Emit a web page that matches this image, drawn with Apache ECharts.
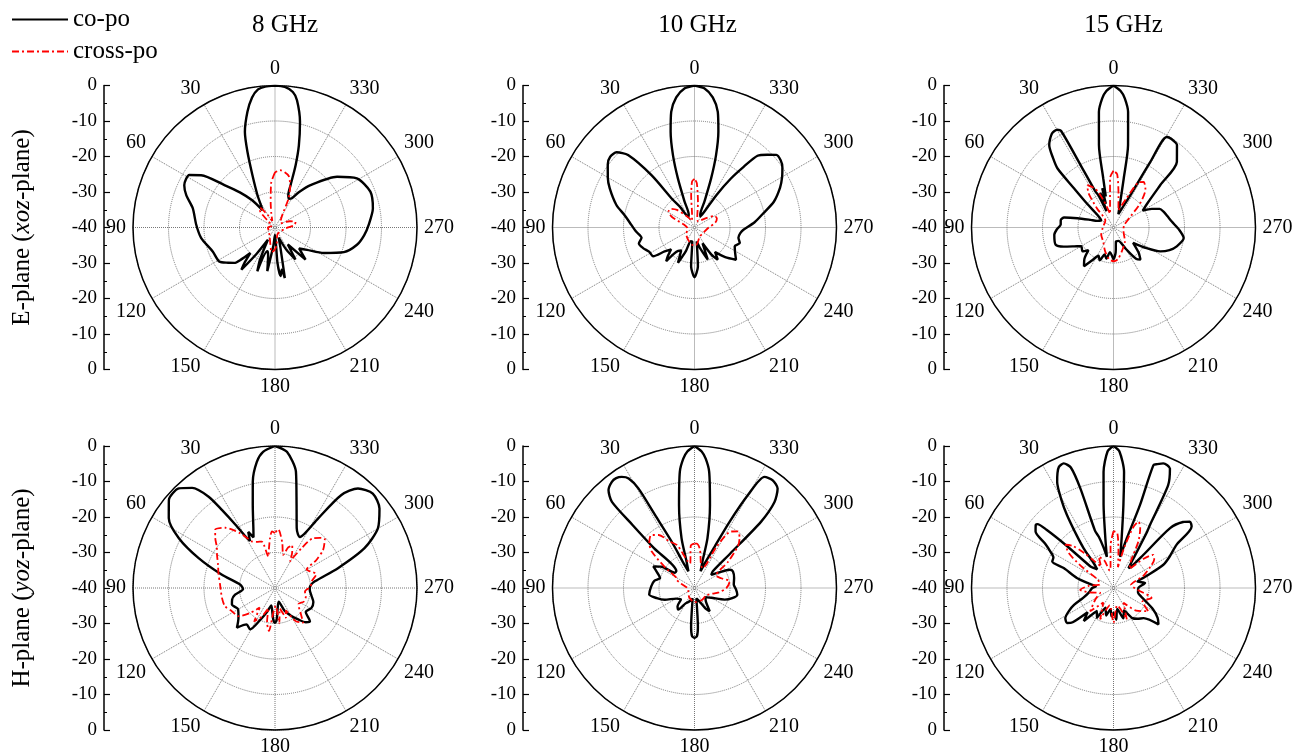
<!DOCTYPE html>
<html>
<head>
<meta charset="utf-8">
<script src="https://cdn.jsdelivr.net/npm/echarts@6/dist/echarts.min.js"></script>
<style>html,body{margin:0;padding:0;background:#fff}#c{width:1306px;height:755px}</style>
</head>
<body>
<div id="c"></div>
<script>
// ---- data: [angle (deg, counter-clockwise from top), level (dB)] ----
const columnTitles = ['8 GHz', '10 GHz', '15 GHz'];
const rowTitles = ['E-plane ({i|xoz}-plane)', 'H-plane ({i|yoz}-plane)'];
const seriesNames = ['co-po', 'cross-po'];
const angleTicks = [0, 30, 60, 90, 120, 150, 180, 210, 240, 270, 300, 330];
const radialTicks = [0, -10, -20, -30, -40, -30, -20, -10, 0];

const e8Co = [[0,0],[4,-0.2],[7,-0.8],[10,-2.8],[13.4,-6.5],[17.5,-11.8],[20,-17.3],[23.3,-23.9],[28.4,-29.6],[33,-33],[36,-34],
[40,-30],[45,-26],[50,-21.4],[54.7,-14.5],[58.5,-11.7],[65,-11.8],[70,-13.4],[76.8,-16.2],[88,-17.8],[98.2,-19],[111,-21.2],[121.3,-21.6],[127,-23.5],[131,-24.8],[133.3,-26.8],[136,-30],[139,-27],[141.5,-24.8],[145,-31],[150,-36],[155,-30],[158,-26.7],[162,-33],[166,-32],[170,-27.5],[175,-35],[180,-38],[184,-30],[186.6,-26.2],[189,-28],[191,-25.5],[195,-34],[200,-37],[207,-33],[212.6,-29.3],[217,-34],[223.5,-27.5],[229,-31],[235,-29],[242.4,-24.5],[250.3,-19.4],[258.1,-16.4],[265,-14.8],[271.6,-13.6],[281.1,-11.9],[290.6,-11.3],[301,-13.1],[309.3,-17.4],[320.1,-24.4],[326,-28],[330,-30.5],[334,-31],[337.8,-30.1],[339.8,-27.3],[341.7,-21.5],[343.8,-15.9],[346.7,-9.4],[350.2,-3.6],[352.5,-1.5],[356,-0.3],[360,0]];
const e8Cross = [[0,-24.5],[5,-27.5],[10,-33],[15,-36],[22,-38],[30,-36],[37,-33],[41,-33.5],[47,-37],[60,-39],[90,-38],[120,-38],[150,-37],[165,-35],[172,-33],[178,-33.5],[185,-35],[200,-38],[240,-38],[265,-37],[277,-34.5],[285,-34],[293,-35.5],[305,-38],[325,-37],[335,-31],[340,-27.5],[345,-25],[350,-24.2],[355,-23.8],[360,-24.5]];

const e10Co = [[0,0],[4,-0.7],[8,-3],[11.4,-6.8],[14,-12.2],[16.6,-18.8],[18.7,-25.4],[21,-32.2],[24,-36],[30,-36.5],[35,-33],[38,-30],[39.4,-20.9],[42.5,-12.3],[46,-9.5],[50,-9],[54,-9.8],[60,-11.8],[65.2,-13.7],[73.9,-17.1],[80,-20],[87.6,-22.2],[94,-23.5],[101,-24.8],[106,-23.7],[111.8,-24.4],[118,-25.5],[124.8,-25.8],[128.7,-29.2],[133,-31],[137,-29],[140,-27.6],[145,-32],[150,-32.5],[155,-29],[160,-33],[165,-36],[171,-36],[175,-29],[180,-26],[185,-29],[189,-36],[195,-34],[202.4,-30.2],[207,-35],[212,-31],[215.8,-28.8],[220,-31],[226,-28],[232.2,-25.2],[238,-26.5],[245,-27.5],[251,-26.5],[257,-27.3],[263,-27],[267.3,-26.2],[275,-23],[281.7,-20.2],[288,-16.5],[295,-13.4],[300,-11.5],[304.4,-10],[308,-9.2],[311.6,-9.2],[315,-11],[318.7,-13.1],[321,-18],[323.4,-22.8],[326,-29],[328,-34.7],[332,-36.5],[336,-36],[339,-32.2],[341.3,-25.4],[343.4,-18.8],[346,-12.2],[348.6,-6.8],[352,-3],[356,-0.7],[360,0]];
const e10Cross = [[0,-26.3],[3,-27],[6,-31],[10,-36],[20,-38],[35,-36],[45,-33],[52,-31.5],[58,-31.4],[65,-33],[75,-37],[95,-38],[130,-37],[155,-36],[175,-35],[185,-35],[210,-37],[245,-37],[270,-36],[283,-34],[292,-33.2],[300,-33.5],[310,-36],[330,-38],[345,-37],[352,-33],[357,-27.5],[360,-26.3]];

const e15Co = [[0,0],[3,-1.5],[5,-3.5],[7.2,-7.2],[10,-16.4],[11.8,-25.9],[14,-31],[16,-28.5],[18,-33],[21,-29.5],[23,-35],[25,-30],[26.6,-28.7],[27.8,-20.2],[28.5,-9],[30,-8.2],[33,-8.3],[36,-9.5],[38,-10.6],[41,-14],[43.5,-17.1],[45.2,-24.3],[48,-30],[52,-34.2],[60,-36],[68,-35],[71.6,-33.2],[75.6,-29.5],[78.6,-25.8],[82,-25],[87,-25.1],[92,-24],[97,-23.2],[106.6,-23],[111,-25],[115.6,-27.7],[120,-29.5],[127.5,-29],[132,-30.5],[137,-28],[142.7,-26.3],[147,-29],[152,-31],[157,-30],[162,-32],[167,-31],[172,-33],[177,-32],[180,-31],[185,-33],[190,-36],[200,-36],[210,-33],[216,-29],[220,-28.2],[225,-30],[232,-33],[238,-29],[243,-25.2],[248,-23],[253.4,-21.4],[261.4,-20],[268,-21.5],[275.8,-23.5],[282,-24.5],[287.6,-25.2],[292,-26],[296,-28],[300,-30.5],[306,-28],[312.2,-22.2],[316,-14.3],[322.4,-10.7],[327,-10.2],[329.5,-10.4],[330.7,-18.8],[332.5,-29.7],[336,-34],[340,-36],[344.4,-33.4],[348.2,-25.9],[350,-16.4],[352.8,-7.2],[355,-3.5],[357,-1.5],[360,0]];
const e15Cross = [[0,-24],[4,-26],[8,-33],[14,-36],[20,-32],[25,-28],[31.7,-26],[36,-28],[41,-33],[50,-37],[90,-37],[120,-36],[145,-35],[160,-33],[172,-31],[180,-30.5],[188,-31],[200,-33],[220,-35],[250,-37],[280,-37],[300,-35],[312,-30],[320,-26],[326.6,-24.6],[331,-25.5],[336,-31],[344,-35],[351,-31],[356,-25],[360,-24]];

const h8Co = [[0,0],[5,-1.5],[8.2,-4.1],[11.8,-9.4],[15,-15.8],[19.9,-22.1],[23,-24.5],[25.5,-22.5],[28,-25],[30,-23],[32,-19],[34.2,-13.5],[36,-8.2],[39.6,-3.4],[44,-1],[50.4,-1.2],[56.7,-4.2],[62.6,-9.5],[68.6,-16.9],[76,-24.6],[84.5,-30.2],[92,-31],[99.5,-28.6],[105,-27.5],[111,-27],[120,-28],[129.3,-26.7],[136.2,-24.5],[142,-27],[149,-26.4],[155,-30],[162,-33],[168,-35],[174,-33],[177,-31],[180,-30.2],[183,-31],[187,-34],[195,-36],[203,-33],[210,-31],[216.4,-29],[222,-27],[226.4,-26.4],[232,-29],[241.4,-28.3],[250,-28.5],[258,-29.5],[267.3,-30.2],[274,-30],[279.5,-28.6],[287.5,-21.4],[294,-12.4],[300.1,-6.5],[307.3,-3],[314,-1.7],[320.2,-3.5],[324.5,-7.8],[328.2,-16.9],[331,-22],[334,-24],[337,-23.5],[340,-22.1],[345.4,-15.9],[349.8,-6.7],[355,-1.5],[360,0]];
const h8Cross = [[0,-24.5],[3,-24],[5.7,-25.9],[9,-29],[11.9,-31],[16,-26.4],[22,-26],[26.6,-25.3],[29,-24],[32.5,-21.7],[39.5,-18],[45.8,-16.5],[50.2,-18.1],[55,-20],[60.3,-21.2],[68,-22.7],[75,-23.5],[86.5,-24.5],[100.6,-24.8],[110,-25],[118.3,-26.2],[127.7,-27],[135,-30],[142,-33],[148,-29],[155,-31],[162,-34],[167,-30],[172,-27.8],[176,-33],[182,-35],[187,-30],[193,-34],[200,-31],[206,-33],[212,-29],[219,-27.4],[226,-30],[235,-32],[245,-31],[255,-31],[263,-31.5],[272,-30],[280.3,-29.5],[288.6,-27.7],[295,-29],[300,-29.7],[304,-26],[308.4,-22.7],[314.6,-20.3],[318,-21],[322.5,-22.3],[326.3,-26.5],[330.6,-31.4],[334,-29],[338,-27],[342,-28],[346,-30.4],[351,-27],[356.8,-23.4],[360,-24.5]];

const h10Co = [[0,0],[3,-1.5],[5,-3.5],[7.2,-7],[10.6,-16.3],[14.6,-25.5],[16.7,-32.2],[20,-35],[24,-32],[26.2,-25.4],[28.4,-16.6],[29.4,-7.8],[31,-4],[33.2,-2.6],[35.5,-2],[37.9,-2.1],[41.3,-3.3],[43.8,-6.4],[44.5,-15],[45.5,-24],[47,-33],[52,-33],[57,-29],[62.3,-26.9],[67,-28.5],[73.9,-29.9],[80,-28.5],[87.8,-27.8],[98.3,-27.1],[105,-29],[111.5,-31],[120,-34],[130,-35],[137,-33],[143,-32.4],[150,-35],[160,-36],[170,-37],[175,-29],[177,-26.5],[180,-26],[183,-26.5],[185,-29],[190,-37],[200,-36],[208,-33.5],[213.3,-32.2],[220,-35],[230,-36],[240,-34.5],[249,-30.9],[255,-29],[261.2,-27.8],[268,-28.3],[275,-28.9],[284,-28.5],[293.3,-28.2],[297.4,-28.8],[303,-32],[308,-34],[312.5,-33],[314,-26],[314.9,-13.5],[317,-7],[320.1,-3.5],[324,-2.5],[327.8,-3],[330.1,-9.8],[332.1,-18.9],[334,-27],[337,-32],[340,-35],[343.3,-32.2],[345.4,-25.5],[349.4,-16.3],[352.8,-7],[355,-3.5],[357,-1.5],[360,0]];
const h10Cross = [[0,-27.5],[5,-28],[10,-33],[15,-32],[22,-27],[28,-25.2],[34,-22],[39.3,-20.7],[45,-22],[49.5,-24.1],[55,-30],[60,-34],[65,-34.4],[72,-36],[90,-38],[120,-38],[150,-37],[180,-36],[210,-36],[240,-36],[260,-33],[270,-31],[280.7,-29.9],[290,-32],[300,-33],[308,-28],[314,-23],[317.8,-21.1],[322.4,-19.9],[326.9,-21],[332,-27],[338,-34],[345,-33],[352,-29],[357,-27.5],[360,-27.5]];

const h15Co = [[0,0],[2.5,-1.5],[4.9,-7.2],[6.8,-16.4],[9.3,-25.8],[12,-31],[14,-28],[16,-25],[17.9,-23],[18.4,-10.5],[19.5,-4],[21.8,-2.2],[24.3,-2.6],[26,-4],[28,-6.2],[30.5,-11],[32.5,-15.6],[35,-22],[36.9,-26],[38.5,-31],[41,-33],[45,-32],[47,-31],[48,-22],[49,-15],[50,-12],[51,-11.8],[54.1,-12.9],[57,-17],[59.9,-19.4],[63,-21],[66.6,-21.2],[68.2,-24.9],[74.7,-29.3],[80,-33],[85,-35],[90,-34],[100,-33],[108,-31],[113,-28],[117,-26],[122,-24],[126.9,-23.6],[130,-25],[133,-30],[138,-27.5],[144,-32],[151,-30.4],[158,-34],[165,-32],[172,-34],[176,-32],[180,-33],[185,-31],[190,-34],[198,-31],[205,-33],[212,-30],[218,-29],[225,-28],[231,-23.7],[236,-25],[241.6,-27.3],[250,-31],[260,-33],[270,-33],[279,-31],[285,-33],[290,-30],[295,-24.5],[299,-22],[304.4,-18.5],[308.2,-12],[311,-11.5],[313.5,-13],[316.6,-16.8],[318,-27.5],[320,-32],[323,-33],[326,-30],[329,-22],[330,-19.4],[332,-7.2],[334.7,-2.8],[338.2,-2.2],[340.5,-3],[342,-3.6],[342.3,-15.5],[345,-25.5],[348,-31],[350.7,-25.8],[353.2,-16.4],[354.8,-7.2],[357.5,-1.5],[360,0]];
const h15Cross = [[0,-24],[4,-28],[8,-34],[12,-35],[18,-32],[25.3,-30.2],[30,-33],[35,-31],[40,-27],[44,-23.5],[48,-21.8],[52,-24],[56,-29],[62,-35],[75,-36],[85,-33],[93,-30.6],[100,-33],[110,-36],[122,-34],[135,-30.7],[145,-35],[157,-30.4],[168,-35],[180,-30.2],[192,-35],[203,-30.4],[214,-35],[225,-31],[236.3,-28.2],[245,-31],[255.4,-28.9],[265,-33],[280,-35],[292,-31],[300,-28],[305,-26],[309.8,-25.4],[314,-28],[320,-33],[327,-31],[332,-25],[336,-21.5],[339.4,-20],[342,-22],[345,-28],[348,-34],[352,-30],[356,-24.5],[360,-24]];

// ---- layout ----
const FONT = '"Liberation Serif", "Times New Roman", serif';
const R = 142;
const colX = [275, 694.5, 1113.5];
const axX = [104, 523, 944];
const rowY = [227.5, 588];
const panelData = [
  [e8Co, e8Cross], [e10Co, e10Cross], [e15Co, e15Cross],
  [h8Co, h8Cross], [h10Co, h10Cross], [h15Co, h15Cross]
];

const polar = [], angleAxis = [], radiusAxis = [], grid = [], xAxis = [], yAxis = [], series = [];
panelData.forEach((pd, i) => {
  const col = i % 3, row = Math.floor(i / 3);
  const cx = colX[col], cy = rowY[row];
  polar.push({ center: [cx, cy], radius: R });
  angleAxis.push({
    polarIndex: i, type: 'value', min: 0, max: 360, interval: 30,
    startAngle: 90, clockwise: false,
    axisLine: { lineStyle: { color: '#000', width: 1.5 } },
    axisTick: { show: false },
    axisLabel: {
      margin: 7, color: '#000', fontSize: 20, fontFamily: FONT,
      formatter: v => (angleTicks.indexOf(v) >= 0 ? String(v) : '')
    },
    splitLine: { lineStyle: { color: '#777', type: 'dotted', width: 1 } }
  });
  radiusAxis.push({
    polarIndex: i, type: 'value', min: -40, max: 0, interval: 10,
    axisLine: { show: false }, axisTick: { show: false }, axisLabel: { show: false },
    splitLine: { lineStyle: { color: '#777', type: 'dotted', width: 1 } }
  });
  grid.push({ left: axX[col], top: cy - R, width: 10, height: 2 * R });
  xAxis.push({ gridIndex: i, type: 'value', show: false, min: 0, max: 1 });
  yAxis.push({
    gridIndex: i, type: 'value', min: -40, max: 40, interval: 10,
    axisLine: { show: true, lineStyle: { color: '#000', width: 1.5 } },
    axisTick: { show: true, inside: true, length: 6, lineStyle: { color: '#000', width: 1.2 } },
    minorTick: { show: true, splitNumber: 2, length: 3, lineStyle: { color: '#000' } },
    splitLine: { show: false },
    axisLabel: {
      margin: 7, color: '#000', fontSize: 19, fontFamily: FONT,
      formatter: v => String(radialTicks[Math.round((40 - v) / 10)])
    }
  });
  series.push({
    type: 'scatter', xAxisIndex: i, yAxisIndex: i, data: [], silent: true
  });
  series.push({
    name: seriesNames[0], type: 'line', coordinateSystem: 'polar', polarIndex: i,
    data: pd[0].map(p => [p[1], p[0]]), symbol: 'none', smooth: 0.25,
    lineStyle: { color: '#000', width: 2.4 }, itemStyle: { color: '#000' }, z: 3
  });
  series.push({
    name: seriesNames[1], type: 'line', coordinateSystem: 'polar', polarIndex: i,
    data: pd[1].map(p => [p[1], p[0]]), symbol: 'none', smooth: 0.25,
    lineStyle: { color: '#ff0000', width: 1.8, type: [7, 3, 2, 3] }, itemStyle: { color: '#ff0000' }, z: 4
  });
});

const title = columnTitles.map((t, c) => ({
  text: t, left: [280, 692.5, 1118.5][c], top: 8, textAlign: 'center',
  textStyle: { fontSize: 25, fontWeight: 'normal', fontFamily: FONT, color: '#000' }
}));

const graphic = rowTitles.map((t, r) => ({
  type: 'text', x: 22, y: rowY[r], rotation: Math.PI / 2,
  style: {
    text: t, fill: '#000', fontSize: 25, fontFamily: FONT,
    align: 'center', verticalAlign: 'middle',
    rich: { i: { fontStyle: 'italic', fontSize: 25, fontFamily: FONT, fill: '#000' } }
  }
}));

const chart = echarts.init(document.getElementById('c'), null, { renderer: 'canvas' });
chart.setOption({
  animation: false,
  backgroundColor: '#fff',
  title, graphic,
  legend: {
    orient: 'vertical', left: 6, top: 2, itemWidth: 56, itemHeight: 14, itemGap: 7,
    data: seriesNames,
    itemStyle: { opacity: 0 },
    textStyle: { fontSize: 25, fontFamily: FONT, color: '#000' }
  },
  polar, angleAxis, radiusAxis, grid, xAxis, yAxis, series
});
</script>
</body>
</html>
